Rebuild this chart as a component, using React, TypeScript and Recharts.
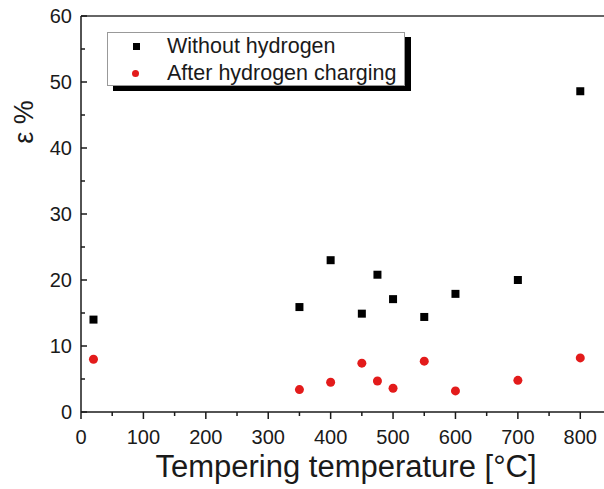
import { ScatterChart, Scatter, XAxis, YAxis, ReferenceLine, Legend } from "recharts"

const temps = [20, 350, 400, 450, 475, 500, 550, 600, 700, 800]
const withoutHydrogen = [14.0, 15.9, 23.0, 14.9, 20.8, 17.1, 14.4, 17.9, 20.0, 48.6]
const afterCharging = [8.0, 3.4, 4.5, 7.4, 4.7, 3.6, 7.7, 3.2, 4.8, 8.2]

const xTicks = [0, 50, 100, 150, 200, 250, 300, 350, 400, 450, 500, 550, 600, 650, 700, 750, 800]
const yTicks = [0, 5, 10, 15, 20, 25, 30, 35, 40, 45, 50, 55, 60]

const font = "'Liberation Sans', Arial, sans-serif"
const ink = "#1a1a1a"
const red = "#e31b1b"

const blackData = temps.map((t, i) => ({ t, v: withoutHydrogen[i] }))
const redData = temps.map((t, i) => ({ t, v: afterCharging[i] }))

function XTick({ x, y, payload }: any) {
  const major = payload.value % 100 === 0
  return (
    <g>
      <line x1={x} x2={x} y1={y} y2={y + (major ? 7 : 4)} stroke={ink} strokeWidth={1.5} />
      {major && (
        <text x={x} y={y + 32} textAnchor="middle" fontSize={20} fontFamily={font} fill={ink}>
          {payload.value}
        </text>
      )}
    </g>
  )
}

function YTick({ x, y, payload }: any) {
  const major = payload.value % 10 === 0
  return (
    <g>
      <line x1={x} x2={x + (major ? 6 : 4)} y1={y} y2={y} stroke={ink} strokeWidth={1.5} />
      {major && (
        <text x={x - 9} y={y + 7} textAnchor="end" fontSize={20} fontFamily={font} fill={ink}>
          {payload.value}
        </text>
      )}
    </g>
  )
}

function LegendBox() {
  const row = { display: "flex", alignItems: "center", height: 27 }
  return (
    <div
      style={{
        width: 298,
        height: 54,
        boxSizing: "border-box",
        background: "#fff",
        border: "1px solid #999",
        boxShadow: "6px 5px 0 #000",
        fontFamily: font,
        fontSize: 21.5,
        color: ink,
        paddingTop: 0,
      }}
    >
      <div style={row}>
        <span style={{ width: 7, height: 7, background: "#000", marginLeft: 25, marginRight: 27 }} />
        <span>Without hydrogen</span>
      </div>
      <div style={row}>
        <span style={{ width: 7, height: 7, borderRadius: 4, background: red, marginLeft: 24, marginRight: 28 }} />
        <span>After hydrogen charging</span>
      </div>
    </div>
  )
}

export default function App() {
  return (
    <div style={{ position: "absolute", left: 0, top: 0, background: "#fff" }}>
      <ScatterChart width={604} height={489} margin={{ top: 16, right: 0, left: 0, bottom: 0 }}>
        <XAxis
          type="number"
          dataKey="t"
          domain={[0, 838]}
          ticks={xTicks}
          interval={0}
          height={77}
          tickSize={0}
          tickMargin={0}
          tickLine={false}
          tick={XTick}
          axisLine={{ stroke: ink, strokeWidth: 1.5 }}
          label={() => (
            <text x={346} y={477} textAnchor="middle" fontSize={31} fontFamily={font} fill={ink}>
              Tempering temperature [°C]
            </text>
          )}
        />
        <YAxis
          type="number"
          dataKey="v"
          domain={[0, 60]}
          ticks={yTicks}
          interval={0}
          width={81}
          tickSize={0}
          tickMargin={0}
          tickLine={false}
          tick={YTick}
          axisLine={{ stroke: ink, strokeWidth: 1.5 }}
          label={() => (
            <text transform="translate(33,122) rotate(-90)" textAnchor="middle" fontSize={27} fontFamily={font} fill={ink}>
              ε %
            </text>
          )}
        />
        <ReferenceLine y={60} stroke="#333" strokeWidth={1.5} />
        <Legend
          layout="horizontal"
          verticalAlign="middle"
          align="center"
          wrapperStyle={{ left: 107, top: 32, width: 298 }}
          content={LegendBox}
        />
        <Scatter
          name="Without hydrogen"
          data={blackData}
          isAnimationActive={false}
          shape={(p: any) => <rect x={p.cx - 4} y={p.cy - 4} width={8} height={8} fill="#000" />}
        />
        <Scatter
          name="After hydrogen charging"
          data={redData}
          isAnimationActive={false}
          shape={(p: any) => <circle cx={p.cx} cy={p.cy} r={4.5} fill={red} />}
        />
      </ScatterChart>
    </div>
  )
}
